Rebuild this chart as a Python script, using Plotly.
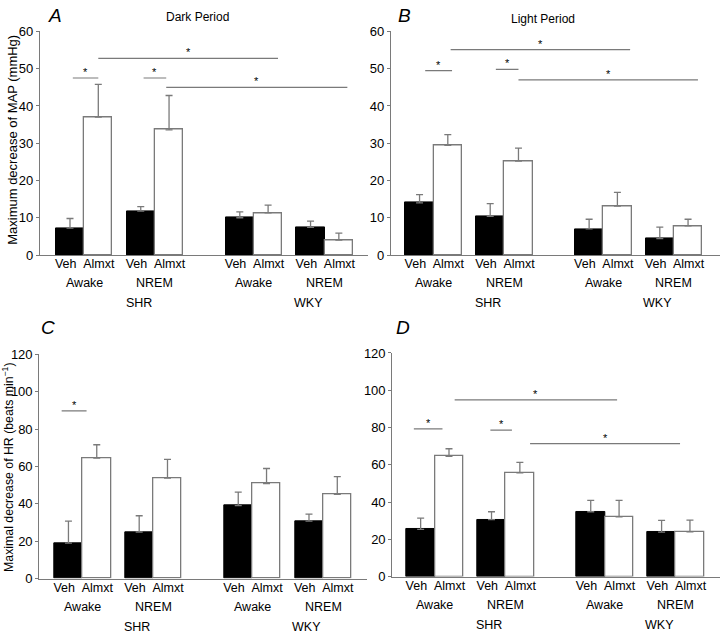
import plotly.graph_objects as go

# ---------------- data ----------------
treatments = ["Veh", "Almxt"]
states = ["Awake", "NREM"]
strains = ["SHR", "WKY"]

# order of each list: SHR-Awake, SHR-NREM, WKY-Awake, WKY-NREM
A_veh = [7.2, 11.8, 10.0, 7.4]
A_veh_err = [2.6, 1.2, 1.6, 1.7]
A_almxt = [37.0, 33.6, 11.3, 4.0]
A_almxt_err = [8.8, 9.2, 2.1, 1.9]

B_veh = [14.0, 10.4, 7.0, 4.4]
B_veh_err = [2.2, 3.4, 2.6, 3.1]
B_almxt = [29.4, 25.2, 13.1, 7.8]
B_almxt_err = [2.9, 3.5, 3.7, 1.8]

C_veh = [19.0, 24.9, 39.0, 30.7]
C_veh_err = [11.7, 8.7, 7.3, 3.8]
C_almxt = [64.5, 53.8, 50.8, 45.0]
C_almxt_err = [7.1, 10.0, 8.1, 9.6]

D_veh = [25.3, 30.6, 34.8, 23.9]
D_veh_err = [6.1, 4.2, 6.1, 6.3]
D_almxt = [64.5, 55.7, 32.1, 24.0]
D_almxt_err = [4.1, 5.6, 8.8, 6.3]

# significance bars: (from position, to position, height)
A_sig = [(0.1, 1.0, 47.5), (2.6, 3.4, 47.5), (1.0, 7.35, 52.75), (3.4, 9.8, 45.0)]
B_sig = [(0.2, 1.15, 49.5), (2.7, 3.5, 49.8), (1.1, 7.45, 55.1), (3.5, 9.85, 47.0)]
C_sig = [(-0.24, 0.64, 89.7)]
D_sig = [(-0.24, 0.77, 79.3), (2.46, 3.22, 78.6), (1.2, 6.93, 94.8), (3.86, 9.15, 71.4)]

MAP_ticks = [0, 10, 20, 30, 40, 50, 60]
HR_ticks = [0, 20, 40, 60, 80, 100, 120]

# ---------------- layout helpers ----------------
W, H = 720, 638
FONT = "Arial, Liberation Sans, sans-serif"
GRAY = "#7a7a7a"


def px(x):
    return x / W


def py(y):
    return 1 - y / H


def pos(strain_i, state_i, treat_i):
    return strain_i * 6 + state_i * 2.5 + treat_i


veh_x = [pos(s, st, 0) for s in range(2) for st in range(2)]
alm_x = [pos(s, st, 1) for s in range(2) for st in range(2)]
label_offset = [-0.15, 0.02]
tick_x = [pos(s, st, t) + label_offset[t] for s in range(2) for st in range(2) for t in range(2)]
tick_text = [treatments[t] for s in range(2) for st in range(2) for t in range(2)]
state_x = [pos(s, st, 0.5) for s in range(2) for st in range(2)]
state_text = [states[st] for s in range(2) for st in range(2)]
strain_x = [pos(s, 0.75, 0.55) for s in range(2)]

panels = [
    # name, veh, veh_err, alm, alm_err, sig, yticks, x domain px, x range, y px (zero, top)
    ("A", A_veh, A_veh_err, A_almxt, A_almxt_err, A_sig, MAP_ticks, (40, 368), (-1.06, 10.53), (254, 25)),
    ("B", B_veh, B_veh_err, B_almxt, B_almxt_err, B_sig, MAP_ticks, (391, 720), (-1.01, 10.63), (254, 25)),
    ("C", C_veh, C_veh_err, C_almxt, C_almxt_err, C_sig, HR_ticks, (39.3, 367), (-1.03, 10.55), (585.3, 355.7)),
    ("D", D_veh, D_veh_err, D_almxt, D_almxt_err, D_sig, HR_ticks, (392.3, 720), (-1.0, 10.56), (583.3, 354.3)),
]

fig = go.Figure()
layout = dict(
    width=W, height=H,
    margin=dict(l=0, r=0, t=0, b=0),
    paper_bgcolor="white", plot_bgcolor="white",
    showlegend=False,
    font=dict(family=FONT, size=13, color="black"),
    bargap=0, barmode="overlay",
)
annotations = []
shapes = []

for i, (name, veh, veh_err, alm, alm_err, sig, yt, xd, xr, yd) in enumerate(panels):
    k = "" if i == 0 else str(i + 1)
    xa, ya = "x" + k, "y" + k
    fig.add_trace(go.Bar(
        x=veh_x, y=veh, width=1, xaxis=xa, yaxis=ya,
        marker=dict(color="black", line=dict(color="black", width=1)),
        error_y=dict(type="data", array=veh_err, arrayminus=[0] * 4, symmetric=False,
                     color=GRAY, thickness=1.3, width=3.5),
    ))
    fig.add_trace(go.Bar(
        x=alm_x, y=alm, width=1, xaxis=xa, yaxis=ya,
        marker=dict(color="white", line=dict(color=GRAY, width=1.3)),
        error_y=dict(type="data", array=alm_err, arrayminus=[0] * 4, symmetric=False,
                     color=GRAY, thickness=1.3, width=3.5),
    ))
    layout["xaxis" + k] = dict(
        domain=[px(xd[0]), px(xd[1])], range=list(xr), anchor=ya,
        showline=True, linecolor=GRAY, linewidth=1.2, ticks="", tickangle=0,
        tickvals=tick_x, ticktext=tick_text, tickfont=dict(size=12.5, color="black"),
        ticklabelstandoff=-3,
        showgrid=False, zeroline=False, fixedrange=True,
    )
    layout["yaxis" + k] = dict(
        domain=[py(yd[0]), py(yd[1])], range=[yt[0], yt[-1]], anchor=xa,
        showline=True, linecolor=GRAY, linewidth=1.2, ticks="outside", ticklen=3,
        tickcolor=GRAY, tickvals=yt, tickfont=dict(size=13, color="black"),
        ticklabelstandoff=0,
        showgrid=False, zeroline=False, fixedrange=True,
    )
    # significance lines and stars
    for (x0, x1, yv) in sig:
        shapes.append(dict(type="line", xref=xa, yref=ya, x0=x0, x1=x1, y0=yv, y1=yv,
                           line=dict(color=GRAY, width=1.2)))
        annotations.append(dict(xref=xa, yref=ya, x=(x0 + x1) / 2, y=yv, text="*",
                                showarrow=False, yanchor="bottom", yshift=-2,
                                font=dict(size=11, color="black")))
    # group labels
    for sx, st in zip(state_x, state_text):
        annotations.append(dict(xref=xa, yref=ya, x=sx, y=0, text=st, showarrow=False,
                                yanchor="middle", yshift=-28, font=dict(size=12.5, color="black")))
    for sx, st in zip(strain_x, strains):
        annotations.append(dict(xref=xa, yref=ya, x=sx, y=0, text=st, showarrow=False,
                                yanchor="middle", yshift=-48, font=dict(size=12.5, color="black")))
    # panel letter
    letter_pos = {"A": (55, 9), "B": (404, 9), "C": (48, 328), "D": (403, 328)}[name]
    annotations.append(dict(xref="paper", yref="paper", x=px(letter_pos[0]), y=py(letter_pos[1]),
                            text="<i>" + name + "</i>", showarrow=False,
                            xanchor="center", yanchor="middle", font=dict(size=19, color="black")))

# period titles
annotations.append(dict(xref="paper", yref="paper", x=px(197), y=py(10), text="Dark Period",
                        showarrow=False, xanchor="center", yanchor="middle",
                        font=dict(size=12, color="black")))
annotations.append(dict(xref="paper", yref="paper", x=px(543), y=py(12), text="Light Period",
                        showarrow=False, xanchor="center", yanchor="middle",
                        font=dict(size=12, color="black")))
# y axis titles
annotations.append(dict(xref="paper", yref="paper", x=px(13), y=py(136),
                        text="Maximum decrease of MAP (mmHg)", textangle=-90,
                        showarrow=False, xanchor="center", yanchor="middle",
                        font=dict(size=13, color="black")))
annotations.append(dict(xref="paper", yref="paper", x=px(8), y=py(472),
                        text="Maximal decrease of HR (beats min<sup>\u22121</sup>)", textangle=-90,
                        showarrow=False, xanchor="center", yanchor="middle",
                        font=dict(size=12.3, color="black")))

layout["annotations"] = annotations
layout["shapes"] = shapes
fig.update_layout(**layout)
fig.write_html("out.html", config={"displayModeBar": False},
               post_script="document.body.style.margin='0px';document.body.style.padding='0px';")
